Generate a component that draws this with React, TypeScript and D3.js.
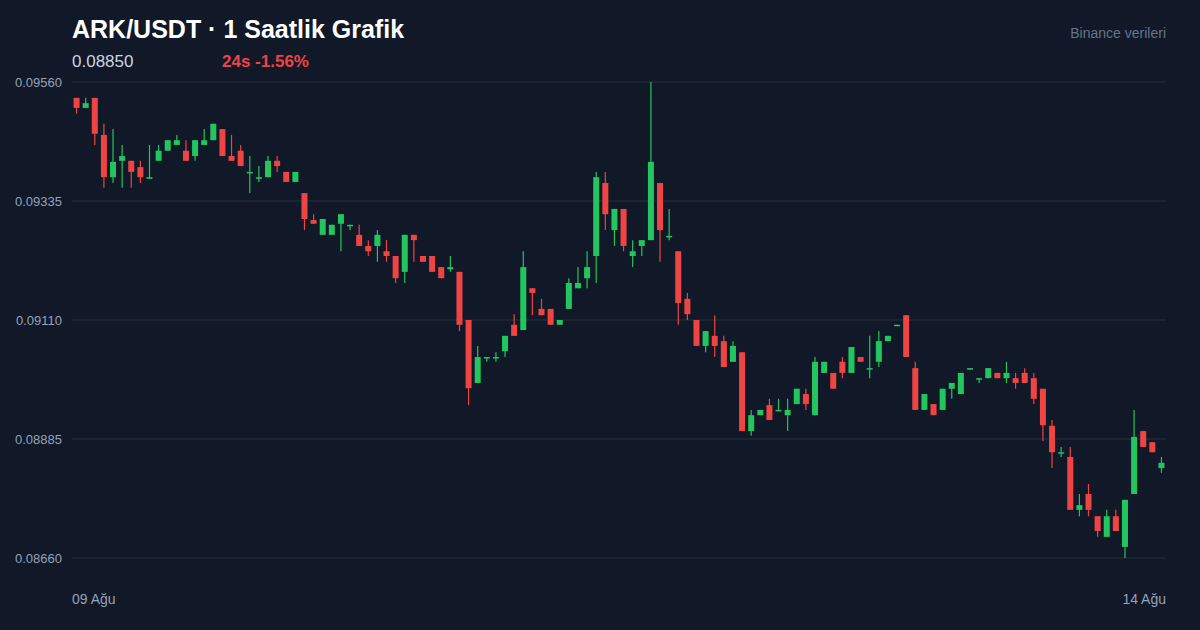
import React from "react";
import * as d3 from "d3";

const opens = [
  0.0953, 0.09511, 0.0953, 0.0946, 0.0938, 0.09411, 0.09411, 0.09399, 0.09377, 0.09411,
  0.0943, 0.09441, 0.0943, 0.0942, 0.09441, 0.0945, 0.09471, 0.0942, 0.0943, 0.09388,
  0.09377, 0.0938, 0.09411, 0.0939, 0.09371, 0.0935, 0.09299, 0.09271, 0.09271, 0.09292,
  0.09288, 0.09271, 0.0925, 0.0925, 0.0924, 0.09231, 0.09201, 0.09271, 0.09231, 0.09231,
  0.0921, 0.09206, 0.09201, 0.0911, 0.08991, 0.09038, 0.09038, 0.09051, 0.09101, 0.09091,
  0.0917, 0.09131, 0.09131, 0.09101, 0.09131, 0.0917, 0.09189, 0.09231, 0.09369, 0.0928,
  0.0932, 0.09231, 0.0925, 0.09261, 0.09369, 0.09267, 0.0924, 0.0915, 0.0911, 0.09061,
  0.0908, 0.0907, 0.09031, 0.09049, 0.089, 0.0893, 0.08949, 0.08938, 0.0893, 0.08951,
  0.0897, 0.0893, 0.0901, 0.0901, 0.09031, 0.0901, 0.0904, 0.09017, 0.09031, 0.0907,
  0.09099, 0.09119, 0.09019, 0.0894, 0.08951, 0.0894, 0.0898, 0.0897, 0.09017, 0.08998,
  0.09, 0.0901, 0.09, 0.09, 0.0901, 0.09, 0.0898, 0.0891, 0.08859, 0.08851,
  0.08751, 0.08781, 0.08739, 0.087, 0.08739, 0.08681, 0.08781, 0.089, 0.08879, 0.0883,
];
const highs = [
  0.0953, 0.0953, 0.0953, 0.09481, 0.09471, 0.09441, 0.09411, 0.09411, 0.09441, 0.09441,
  0.0945, 0.0946, 0.0945, 0.0945, 0.09471, 0.09481, 0.09471, 0.0946, 0.09441, 0.0942,
  0.09401, 0.0942, 0.0942, 0.0939, 0.0939, 0.0935, 0.0931, 0.09301, 0.0929, 0.0931,
  0.0929, 0.0929, 0.09261, 0.0928, 0.09261, 0.09231, 0.09271, 0.09271, 0.09231, 0.09231,
  0.0921, 0.09231, 0.09201, 0.0911, 0.09061, 0.0904, 0.09049, 0.0908, 0.09121, 0.0924,
  0.0917, 0.0915, 0.09131, 0.0911, 0.09189, 0.0921, 0.0924, 0.0939, 0.0939, 0.0932,
  0.0932, 0.09261, 0.09261, 0.0956, 0.09369, 0.0932, 0.0924, 0.09161, 0.0911, 0.09089,
  0.09119, 0.0908, 0.0907, 0.09049, 0.0894, 0.0894, 0.08961, 0.08961, 0.08961, 0.0898,
  0.0898, 0.0904, 0.09031, 0.0901, 0.0904, 0.09059, 0.0904, 0.0908, 0.09089, 0.0908,
  0.09101, 0.09119, 0.09031, 0.0897, 0.08951, 0.0898, 0.08991, 0.0901, 0.09019, 0.09,
  0.09019, 0.0901, 0.09031, 0.0901, 0.09019, 0.0901, 0.0898, 0.08921, 0.0887, 0.0887,
  0.08781, 0.088, 0.08739, 0.08751, 0.08751, 0.0877, 0.0894, 0.089, 0.08879, 0.08851,
];
const lows = [
  0.095, 0.09511, 0.09441, 0.0936, 0.09369, 0.0936, 0.0936, 0.09369, 0.09377, 0.09411,
  0.0943, 0.09441, 0.09411, 0.09411, 0.09441, 0.0945, 0.0942, 0.09411, 0.09401, 0.0935,
  0.09371, 0.0938, 0.0939, 0.09371, 0.09371, 0.0928, 0.09292, 0.09271, 0.09271, 0.0924,
  0.0928, 0.0925, 0.09231, 0.0922, 0.0922, 0.0918, 0.0918, 0.0922, 0.0922, 0.09201,
  0.09189, 0.09201, 0.09089, 0.08949, 0.08991, 0.09031, 0.09031, 0.0904, 0.0908, 0.09091,
  0.09119, 0.09119, 0.09101, 0.09101, 0.09131, 0.0917, 0.0917, 0.0918, 0.0928, 0.0925,
  0.0924, 0.0921, 0.09231, 0.09261, 0.0922, 0.09261, 0.09101, 0.0911, 0.09061, 0.09049,
  0.0904, 0.09021, 0.09031, 0.089, 0.08891, 0.0893, 0.08921, 0.08938, 0.089, 0.08951,
  0.0894, 0.0893, 0.0901, 0.0898, 0.09, 0.0901, 0.09031, 0.09, 0.09021, 0.0907,
  0.09099, 0.0904, 0.0894, 0.0894, 0.0893, 0.0894, 0.08961, 0.0897, 0.09017, 0.08991,
  0.09, 0.09, 0.08991, 0.0898, 0.08991, 0.08951, 0.08881, 0.0883, 0.08851, 0.08751,
  0.08739, 0.08739, 0.087, 0.087, 0.08711, 0.0866, 0.08781, 0.0887, 0.0886, 0.08821,
];
const closes = [
  0.09511, 0.0952, 0.09462, 0.0938, 0.09409, 0.0942, 0.0939, 0.0938, 0.0938, 0.0943,
  0.0945, 0.0945, 0.09411, 0.0945, 0.0945, 0.09481, 0.0942, 0.09411, 0.09401, 0.0939,
  0.0938, 0.09411, 0.09401, 0.09371, 0.0939, 0.09301, 0.09292, 0.09301, 0.0929, 0.0931,
  0.0929, 0.0925, 0.0924, 0.09271, 0.09231, 0.09189, 0.09271, 0.09261, 0.0922, 0.09201,
  0.09189, 0.0921, 0.09101, 0.08981, 0.0904, 0.0904, 0.0904, 0.0908, 0.0908, 0.0921,
  0.09161, 0.09119, 0.09101, 0.0911, 0.0918, 0.0918, 0.0921, 0.0938, 0.0931, 0.0932,
  0.0925, 0.0924, 0.09261, 0.09409, 0.0928, 0.09269, 0.09142, 0.09121, 0.09061, 0.09089,
  0.09061, 0.09021, 0.09061, 0.089, 0.0893, 0.0894, 0.08921, 0.0894, 0.0894, 0.0898,
  0.08951, 0.09031, 0.09031, 0.0898, 0.0901, 0.09059, 0.09031, 0.09019, 0.0907, 0.0908,
  0.09101, 0.0904, 0.0894, 0.0897, 0.0893, 0.0898, 0.08991, 0.0901, 0.09019, 0.09,
  0.09019, 0.09, 0.0901, 0.08991, 0.08991, 0.08961, 0.08911, 0.0886, 0.0886, 0.08751,
  0.0876, 0.08751, 0.08711, 0.08739, 0.08711, 0.0877, 0.08889, 0.0887, 0.0886, 0.0884,
];

const yTicks = [0.0956, 0.09335, 0.0911, 0.08885, 0.0866];
const xTickLabels = ["09 Ağu", "14 Ağu"];

const W = 1200;
const H = 630;
const left = 72;
const right = 1166;
const top = 82;
const bottom = 558;

const UP = "#22c55e";
const DOWN = "#ef4444";
const FONT = "'Liberation Sans', Arial, Helvetica, sans-serif";

export default function App() {
  const idx = d3.range(opens.length);
  const x = d3.scaleBand<number>().domain(idx).range([left, right]).paddingInner(0.34).paddingOuter(0.17);
  const y = d3.scaleLinear().domain([0.0866, 0.0956]).range([bottom, top]);
  const bw = x.bandwidth();

  return (
    <div style={{ position: "fixed", left: 0, top: 0, width: W, height: H }}>
      <svg width={W} height={H} style={{ display: "block", background: "#111827" }}>
        <rect x={0} y={0} width={W} height={H} fill="#111827" />
        {yTicks.map((t) => (
          <g key={t}>
            <line x1={left} x2={right} y1={y(t)} y2={y(t)} stroke="#1f2937" strokeWidth={1.5} />
            <text x={62} y={y(t)} dy="0.35em" textAnchor="end" fontSize={13} fill="#94a3b8" fontFamily={FONT}>
              {d3.format(".5f")(t)}
            </text>
          </g>
        ))}
        {idx.map((i) => {
          const o = opens[i], c = closes[i], h = highs[i], l = lows[i];
          const col = c >= o ? UP : DOWN;
          const cx = (x(i) as number) + bw / 2;
          const yt = y(Math.max(o, c));
          const yb = y(Math.min(o, c));
          return (
            <g key={i}>
              <line x1={cx} x2={cx} y1={y(h)} y2={y(l)} stroke={col} strokeWidth={1.2} />
              <rect x={x(i)} y={yt} width={bw} height={Math.max(1.5, yb - yt)} fill={col} />
            </g>
          );
        })}
        <text x={left} y={604} fontSize={14} fill="#94a3b8" fontFamily={FONT}>{xTickLabels[0]}</text>
        <text x={right} y={604} textAnchor="end" fontSize={14} fill="#94a3b8" fontFamily={FONT}>{xTickLabels[1]}</text>
        <text x={left} y={38} fontSize={25} fontWeight={700} fill="#ffffff" fontFamily={FONT}>ARK/USDT · 1 Saatlik Grafik</text>
        <text x={left} y={67} fontSize={17} fill="#cbd5e1" fontFamily={FONT}>0.08850</text>
        <text x={222} y={67} fontSize={17} fontWeight={700} fill={DOWN} fontFamily={FONT}>24s -1.56%</text>
        <text x={right} y={38} textAnchor="end" fontSize={14} fill="#64748b" fontFamily={FONT}>Binance verileri</text>
      </svg>
    </div>
  );
}
